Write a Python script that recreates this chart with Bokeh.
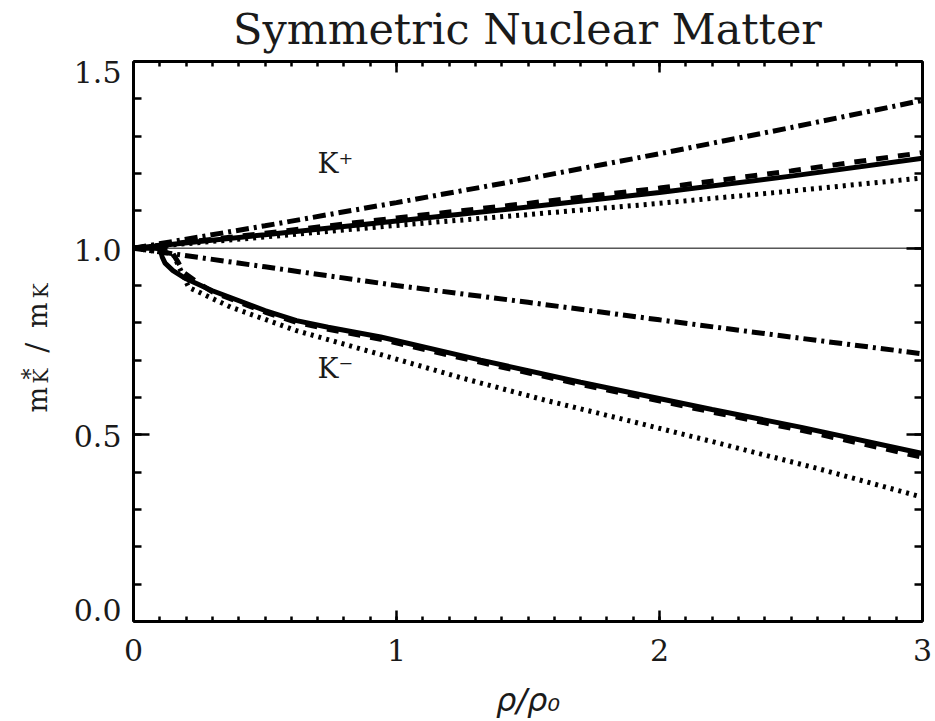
import math
from bokeh.plotting import figure
from bokeh.layouts import row, column
from bokeh.models import Range1d, LinearAxis, FixedTicker, Span
from bokeh.core.properties import value
from bokeh.embed import file_html
from bokeh.resources import INLINE

# ---------------- data ----------------
# K+ branch
kp_x = [0.0, 0.5, 1.0, 1.5, 2.0, 2.5, 3.0]
kp_dashdot = [1.0, 1.060, 1.122, 1.186, 1.253, 1.323, 1.396]
kp_solid = [1.0, 1.036, 1.073, 1.110, 1.149, 1.193, 1.241]
kp_dashed = [1.0, 1.040, 1.081, 1.120, 1.161, 1.207, 1.256]
kp_dotted = [1.0, 1.030, 1.061, 1.090, 1.120, 1.153, 1.188]

# K- branch
km_dashdot_x = [0.0, 0.5, 1.0, 1.5, 2.0, 2.5, 3.0]
km_dashdot = [1.0, 0.950, 0.900, 0.855, 0.808, 0.762, 0.717]

km_solid_x = [0.0, 0.10, 0.11, 0.12, 0.15, 0.20, 0.30, 0.50, 0.62, 0.74, 0.94, 1.32, 1.70, 2.20, 2.54, 3.00]
km_solid = [1.0, 1.0, 0.975, 0.960, 0.940, 0.918, 0.886, 0.833, 0.806, 0.788, 0.762, 0.700, 0.641, 0.568, 0.520, 0.450]

km_dashed_x = [0.0, 0.14, 0.15, 0.17, 0.19, 0.25, 0.30, 0.50, 0.62, 0.74, 0.94, 1.32, 1.70, 2.20, 2.54, 3.00]
km_dashed = [1.0, 1.0, 0.985, 0.962, 0.935, 0.905, 0.883, 0.829, 0.801, 0.783, 0.756, 0.694, 0.635, 0.561, 0.512, 0.440]

km_dotted_x = [0.0, 0.15, 0.18, 0.21, 0.37, 0.62, 0.93, 1.25, 1.57, 1.90, 2.20, 2.60, 3.00]
km_dotted = [1.0, 0.985, 0.940, 0.895, 0.842, 0.779, 0.717, 0.652, 0.592, 0.535, 0.482, 0.410, 0.333]

x_major = [0, 1, 2, 3]
x_minor = [i / 10 for i in range(31)]
y_major = [0.0, 0.5, 1.0, 1.5]
y_minor = [i / 10 for i in range(16)]
y_tick_labels = ["0.0", "0.5", "1.0", "1.5"]
# the end labels sit slightly inside the frame, as in the reference
y_tick_label_pos = [0.032, 0.497, 0.994, 1.471]

title_text = "Symmetric Nuclear Matter"
x_label = "ρ/ρ₀"
curve_labels = ["K⁺", "K⁻"]
curve_label_x = [0.70, 0.70]
curve_label_y = [1.227, 0.679]

SERIF = "DejaVu Serif"
TXT = "#1a1a1a"

TOTAL_W, TOTAL_H = 935, 721
TITLE_H = 58
TOP, BOTTOM = 3, 100
LAB_W = 60
BODY_H = TOTAL_H - TITLE_H


def bare(fig):
    fig.grid.visible = False
    fig.outline_line_color = None
    fig.background_fill_color = "white"
    fig.border_fill_color = "white"


# ---------------- title strip ----------------
tfig = figure(width=TOTAL_W, height=TITLE_H,
              x_range=Range1d(0, TOTAL_W), y_range=Range1d(0, TITLE_H),
              x_axis_location=None, y_axis_location=None,
              output_backend="svg", toolbar_location=None,
              min_border_left=0, min_border_right=0, min_border_top=0, min_border_bottom=0)
bare(tfig)
tfig.text(x=[527], y=[TITLE_H - 28], text=[title_text],
          text_font=value(SERIF), text_font_size="43px", text_color=TXT,
          text_align="center", text_baseline="middle")

# ---------------- main figure ----------------
p = figure(width=TOTAL_W - LAB_W, height=BODY_H,
           x_range=Range1d(0, 3), y_range=Range1d(0, 1.5),
           output_backend="svg", toolbar_location=None,
           min_border_left=133 - LAB_W, min_border_right=13,
           min_border_top=TOP, min_border_bottom=BOTTOM)
bare(p)


def style_axis(ax, ticks, minors, tin, mtin, show_labels):
    ax.ticker = FixedTicker(ticks=ticks, minor_ticks=minors)
    ax.axis_line_width = 3
    ax.axis_line_color = "black"
    ax.major_tick_in = tin
    ax.major_tick_out = 0
    ax.minor_tick_in = mtin
    ax.minor_tick_out = 0
    ax.major_tick_line_width = 2.5
    ax.minor_tick_line_width = 2.5
    ax.major_tick_line_color = "black"
    ax.minor_tick_line_color = "black"
    if show_labels:
        ax.major_label_text_font = SERIF
        ax.major_label_text_font_size = "30px"
        ax.major_label_text_color = TXT
    else:
        ax.major_label_overrides = {t: "" for t in ticks}
        ax.major_label_standoff = 0


xa = p.xaxis[0]
ya = p.yaxis[0]
style_axis(xa, x_major, x_minor, 11, 5, True)
style_axis(ya, y_major, y_minor, 16, 8, False)   # ticks only; labels on the next axis
xa.major_label_standoff = 17
xa.axis_label = x_label
xa.axis_label_text_font = "DejaVu Sans"
xa.axis_label_text_font_style = "italic"
xa.axis_label_text_font_size = "32px"
xa.axis_label_text_color = TXT
xa.axis_label_standoff = 17

# labels-only left axis (no line, no ticks)
yl = LinearAxis(ticker=FixedTicker(ticks=y_tick_label_pos, minor_ticks=[]))
yl.major_label_overrides = dict(zip(y_tick_label_pos, y_tick_labels))
yl.axis_line_color = None
yl.major_tick_line_color = None
yl.minor_tick_line_color = None
yl.major_tick_in = 0
yl.major_tick_out = 0
yl.minor_tick_in = 0
yl.minor_tick_out = 0
yl.major_label_standoff = 12
yl.major_label_text_font = SERIF
yl.major_label_text_font_size = "30px"
yl.major_label_text_color = TXT
p.add_layout(yl, "left")

# top / right: ticks only
ta = LinearAxis()
ra = LinearAxis()
style_axis(ta, x_major, x_minor, 11, 5, False)
style_axis(ra, y_major, y_minor, 16, 8, False)
p.add_layout(ta, "above")
p.add_layout(ra, "right")

# reference line at 1
p.add_layout(Span(location=1.0, dimension="width", line_color="black", line_width=1))

LW = 5
DASHDOT = "13 5 3 5"
DASHED = "12 10"
DOTTED = "3 5"
# K+ curves
p.line(kp_x, kp_dashdot, line_color="black", line_width=LW, line_dash=DASHDOT)
p.line(kp_x, kp_dashed, line_color="black", line_width=LW, line_dash=DASHED)
p.line(kp_x, kp_solid, line_color="black", line_width=LW)
p.line(kp_x, kp_dotted, line_color="black", line_width=5, line_dash=DOTTED)
# K- curves
p.line(km_dashdot_x, km_dashdot, line_color="black", line_width=LW, line_dash=DASHDOT)
p.line(km_dashed_x, km_dashed, line_color="black", line_width=LW, line_dash=DASHED)
p.line(km_solid_x, km_solid, line_color="black", line_width=LW)
p.line(km_dotted_x, km_dotted, line_color="black", line_width=5, line_dash=DOTTED)

# curve labels
p.text(x=curve_label_x, y=curve_label_y, text=curve_labels,
       text_font=value(SERIF), text_font_size="28px", text_color=TXT,
       text_align="left", text_baseline="middle")

# ---------------- left strip:  m*_K / m_K ----------------
lab = figure(width=LAB_W, height=BODY_H,
             x_range=Range1d(0, LAB_W), y_range=p.y_range,
             x_axis_location=None, y_axis_location=None,
             output_backend="svg", toolbar_location=None,
             min_border_left=0, min_border_right=0,
             min_border_top=TOP, min_border_bottom=BOTTOM)
bare(lab)

rot = math.pi / 2
ylab_pieces = [
    # text, x (px in strip, text middle line), y (data, start of text), font size
    ("m", 37, 0.560, "27px"),
    ("K", 40, 0.6375, "20px"),
    ("*", 29.5, 0.648, "22px"),
    ("/", 36, 0.720, "30px"),
    ("m", 37, 0.786, "27px"),
    ("K", 40, 0.866, "20px"),
]
for txt, xx, yy, fs in ylab_pieces:
    lab.text(x=[xx], y=[yy], text=[txt], angle=rot,
             text_font=value(SERIF), text_font_size=fs, text_color=TXT,
             text_align="left", text_baseline="middle")

layout = column(tfig, row(lab, p))
open("out.html", "w").write(file_html(layout, INLINE))
